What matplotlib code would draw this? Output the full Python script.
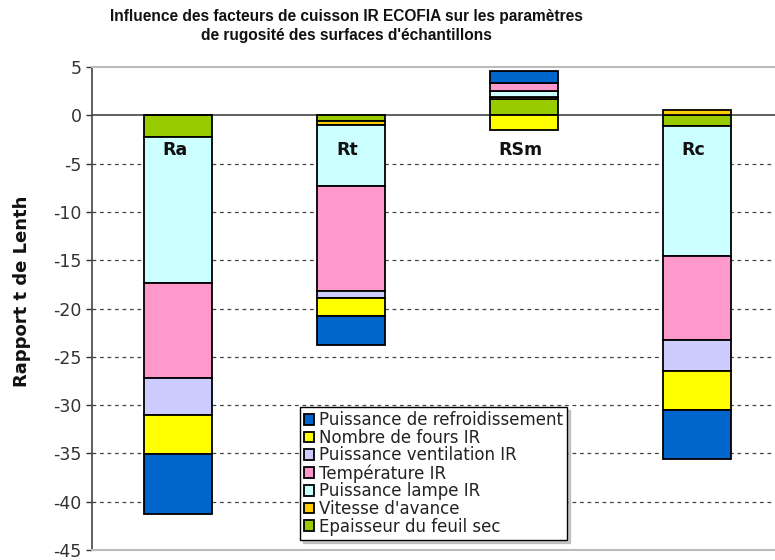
import matplotlib
matplotlib.use("Agg")
import matplotlib.pyplot as plt
from matplotlib import font_manager
import numpy as np

plt.rcParams["font.family"] = ["DejaVu Sans"]
plt.rcParams["axes.unicode_minus"] = False

categories = ["Ra", "Rt", "RSm", "Rc"]

# stacking order from zero outward (positive and negative stacks separately)
series_names = [
    "Epaisseur du feuil sec",
    "Vitesse d'avance",
    "Puissance lampe IR",
    "Température IR",
    "Puissance ventilation IR",
    "Nombre de fours IR",
    "Puissance de refroidissement",
]
epaisseur = [-2.2, -0.6, 1.75, -1.1]
vitesse = [0.0, -0.35, 0.2, 0.55]
lampe = [-15.2, -6.35, 0.55, -13.45]
temperature = [-9.8, -10.85, 0.88, -8.75]
ventilation = [-3.8, -0.8, 0.0, -3.2]
fours = [-4.1, -1.8, -1.55, -4.0]
refroidissement = [-6.2, -3.05, 1.2, -5.1]

colors = ["#99CC00", "#FFCC00", "#CCFFFF", "#FF99CC", "#CCCCFF", "#FFFF00", "#0066CC"]
values = [epaisseur, vitesse, lampe, temperature, ventilation, fours, refroidissement]

fig = plt.figure(figsize=(7.75, 5.6), dpi=100)
ax = fig.add_axes([0.1187, 0.018, 0.8916, 0.862])

x = np.arange(len(categories))
pos_base = np.zeros(len(categories))
neg_base = np.zeros(len(categories))
handles = []
for name, vals, col in zip(series_names, values, colors):
    vals = np.array(vals)
    bottoms = np.where(vals >= 0, pos_base, neg_base)
    b = ax.bar(x, vals, 0.393, bottom=bottoms, color=col, edgecolor="black",
               linewidth=1.3, label=name, zorder=3)
    handles.append(b)
    pos_base = pos_base + np.where(vals > 0, vals, 0)
    neg_base = neg_base + np.where(vals < 0, vals, 0)

for xi, cat in zip(x, categories):
    ax.text(xi - 0.02, -3.6, cat, ha="center", va="center", fontsize=12.5,
            fontweight="bold", color="#111111", zorder=4)

ax.set_xlim(-0.5, 3.5)
ax.set_ylim(-45, 5)
ax.set_yticks(np.arange(-45, 6, 5))
ax.tick_params(axis="y", labelsize=12.5, length=4.5, width=1, pad=3,
               color="#333333", labelcolor="#333333")
ax.set_xticks([])

for yv in range(-40, 0, 5):
    ax.axhline(yv, color="#444444", linestyle=(0, (3, 3)), linewidth=0.9, zorder=1)
ax.axhline(0, color="#444444", linewidth=1.2, zorder=2)

for side in ["top", "bottom", "right"]:
    ax.spines[side].set_color("#BBBBBB")
    ax.spines[side].set_linewidth(1.5)
ax.spines["left"].set_color("#444444")
ax.spines["left"].set_linewidth(1.2)

ax.set_ylabel("Rapport t de Lenth", fontsize=13, fontweight="bold", color="#111111")
ax.yaxis.set_label_coords(-0.088, 0.535)

installed = {f.name for f in font_manager.fontManager.ttflist}
if "Liberation Sans Narrow" in installed:
    title_family, title_size = "Liberation Sans Narrow", 13.2
else:
    title_family, title_size = "Liberation Sans", 11.2
fig.text(0.447, 0.984,
         "Influence des facteurs de cuisson IR ECOFIA sur les paramètres\n"
         "de rugosité des surfaces d'échantillons",
         ha="center", va="top", fontsize=title_size, fontweight="bold",
         family=[title_family, "DejaVu Sans"], linespacing=1.3, color="#111111")

leg = ax.legend(handles[::-1], series_names[::-1], loc="lower left",
                bbox_to_anchor=(0.301, 0.021), fontsize=12, frameon=True,
                fancybox=False, edgecolor="black", framealpha=1,
                shadow={"color": "#999999", "alpha": 0.5},
                handlelength=0.6, handleheight=0.6, handletextpad=0.3,
                labelspacing=-0.02, borderpad=0.25, borderaxespad=0)
leg.get_frame().set_linewidth(1.0)
for t in leg.get_texts():
    t.set_color("#222222")
leg.set_zorder(5)

fig.savefig("out.png", dpi=100)
